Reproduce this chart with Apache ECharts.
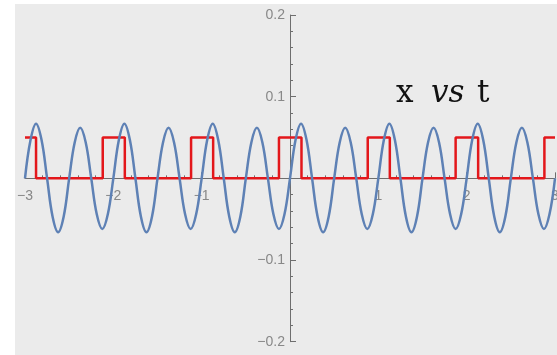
<!DOCTYPE html>
<html>
<head>
<meta charset="utf-8">
<script src="https://cdn.jsdelivr.net/npm/echarts@6/dist/echarts.min.js"></script>
<style>
  html, body { margin: 0; padding: 0; background: #ffffff; }
  #chart { width: 557px; height: 355px; }
</style>
</head>
<body>
<div id="chart"></div>
<script>
// Oscillator displacement x(t), sampled every sixteenth of a second
const timeSamples = [
  -3, -2.9375, -2.875, -2.8125, -2.75, -2.6875, -2.625, -2.5625,
  -2.5, -2.4375, -2.375, -2.3125, -2.25, -2.1875, -2.125, -2.0625,
  -2, -1.9375, -1.875, -1.8125, -1.75, -1.6875, -1.625, -1.5625,
  -1.5, -1.4375, -1.375, -1.3125, -1.25, -1.1875, -1.125, -1.0625,
  -1, -0.9375, -0.875, -0.8125, -0.75, -0.6875, -0.625, -0.5625,
  -0.5, -0.4375, -0.375, -0.3125, -0.25, -0.1875, -0.125, -0.0625,
  0, 0.0625, 0.125, 0.1875, 0.25, 0.3125, 0.375, 0.4375,
  0.5, 0.5625, 0.625, 0.6875, 0.75, 0.8125, 0.875, 0.9375,
  1, 1.0625, 1.125, 1.1875, 1.25, 1.3125, 1.375, 1.4375,
  1.5, 1.5625, 1.625, 1.6875, 1.75, 1.8125, 1.875, 1.9375,
  2, 2.0625, 2.125, 2.1875, 2.25, 2.3125, 2.375, 2.4375,
  2.5, 2.5625, 2.625, 2.6875, 2.75, 2.8125, 2.875, 2.9375,
  3
];
const displacement = [
  0, 0.047, 0.067, 0.047, 0, -0.047, -0.066, -0.047,
  0, 0.044, 0.062, 0.044, 0, -0.044, -0.062, -0.044,
  0, 0.047, 0.067, 0.047, 0, -0.047, -0.066, -0.047,
  0, 0.044, 0.062, 0.044, 0, -0.044, -0.062, -0.044,
  0, 0.047, 0.067, 0.047, 0, -0.047, -0.066, -0.047,
  0, 0.044, 0.062, 0.044, 0, -0.044, -0.062, -0.044,
  0, 0.047, 0.067, 0.047, 0, -0.047, -0.066, -0.047,
  0, 0.044, 0.062, 0.044, 0, -0.044, -0.062, -0.044,
  0, 0.047, 0.067, 0.047, 0, -0.047, -0.066, -0.047,
  0, 0.044, 0.062, 0.044, 0, -0.044, -0.062, -0.044,
  0, 0.047, 0.067, 0.047, 0, -0.047, -0.066, -0.047,
  0, 0.044, 0.062, 0.044, 0, -0.044, -0.062, -0.044,
  0
];

// Driving pulse train: switch-on and switch-off times, pulse height
const pulseOn  = [-3.125, -2.12, -1.12, -0.125, 0.88, 1.875, 2.88];
const pulseOff = [-2.875, -1.87, -0.87, 0.13, 1.13, 2.13, 3.13];
const pulseHeight = 0.05;

// Axis ranges
const tRange = [-3, 3];
const xRange = [-0.2, 0.2];

const wave = timeSamples.map((t, i) => [t, displacement[i]]);

// Step outline of the pulse train, clipped to the time range
const pulses = [];
const clip = t => Math.min(tRange[1], Math.max(tRange[0], t));
pulseOn.forEach((on, i) => {
  const a = clip(on), b = clip(pulseOff[i]);
  if (on > tRange[0]) { pulses.push([a, 0]); }
  pulses.push([a, pulseHeight]);
  pulses.push([b, pulseHeight]);
  if (pulseOff[i] < tRange[1]) { pulses.push([b, 0]); }
});

const minus = v => String(v).replace('-', '\u2212');
const axisGray = '#6e6e6e';
const labelGray = '#888888';

// Plot box; the axes cross at the origin
const W = 557, H = 355;
const box = { left: 25, right: 2, top: 15, bottom: 13.3 };
const plotW = W - box.left - box.right;
const plotH = H - box.top - box.bottom;
const yAxisShift = plotW * (0 - tRange[0]) / (tRange[1] - tRange[0]);
const xAxisShift = plotH * (0 - xRange[0]) / (xRange[1] - xRange[0]);

const chart = echarts.init(document.getElementById('chart'), null, { renderer: 'canvas' });
chart.setOption({
  backgroundColor: '#ffffff',
  animation: false,
  graphic: [
    { type: 'rect', z: -10, silent: true,
      shape: { x: 15, y: 4, width: 560, height: 360 },
      style: { fill: '#ebebeb' } },
    { type: 'text', z: 10, left: 396, top: 78,
      style: { text: 'x', font: '31px "DejaVu Serif"', fill: '#111' } },
    { type: 'text', z: 10, left: 431, top: 78,
      style: { text: 'vs', font: 'italic 31px "DejaVu Serif"', fill: '#111' } },
    { type: 'text', z: 10, left: 477, top: 78,
      style: { text: 't', font: '31px "DejaVu Serif"', fill: '#111' } }
  ],
  grid: {
    left: box.left, right: box.right, top: box.top, bottom: box.bottom,
    containLabel: false, outerBoundsMode: 'none'
  },
  xAxis: {
    type: 'value', min: tRange[0], max: tRange[1], interval: 1,
    position: 'bottom', offset: -xAxisShift,
    axisLine: { onZero: false, lineStyle: { color: axisGray, width: 1 } },
    axisTick: { inside: true, length: 6, lineStyle: { color: axisGray } },
    minorTick: { show: true, splitNumber: 5, length: 3, lineStyle: { color: axisGray } },
    splitLine: { show: false },
    axisLabel: {
      margin: 11, color: labelGray, fontSize: 14, fontFamily: 'Liberation Sans',
      showMinLabel: true, showMaxLabel: true, hideOverlap: false,
      formatter: v => (v === 0 ? '' : minus(v))
    }
  },
  yAxis: {
    type: 'value', min: xRange[0], max: xRange[1], interval: 0.1,
    position: 'left', offset: -yAxisShift,
    axisLine: { show: true, onZero: false, lineStyle: { color: axisGray, width: 1 } },
    axisTick: { show: true, inside: true, length: 6, lineStyle: { color: axisGray } },
    minorTick: { show: true, splitNumber: 5, length: 3, lineStyle: { color: axisGray } },
    splitLine: { show: false },
    axisLabel: {
      margin: 5, color: labelGray, fontSize: 14, fontFamily: 'Liberation Sans',
      formatter: v => (Math.abs(v) < 1e-9 ? '' : minus(Number(v.toFixed(1))))
    }
  },
  series: [
    {
      name: 'pulse', type: 'line', data: pulses, showSymbol: false, z: 3,
      lineStyle: { color: '#e3171b', width: 2.5 }
    },
    {
      name: 'x', type: 'line', data: wave, smooth: 0.4, showSymbol: false, z: 4,
      lineStyle: { color: '#5e81b5', width: 2.5 }
    }
  ]
});
</script>
</body>
</html>
